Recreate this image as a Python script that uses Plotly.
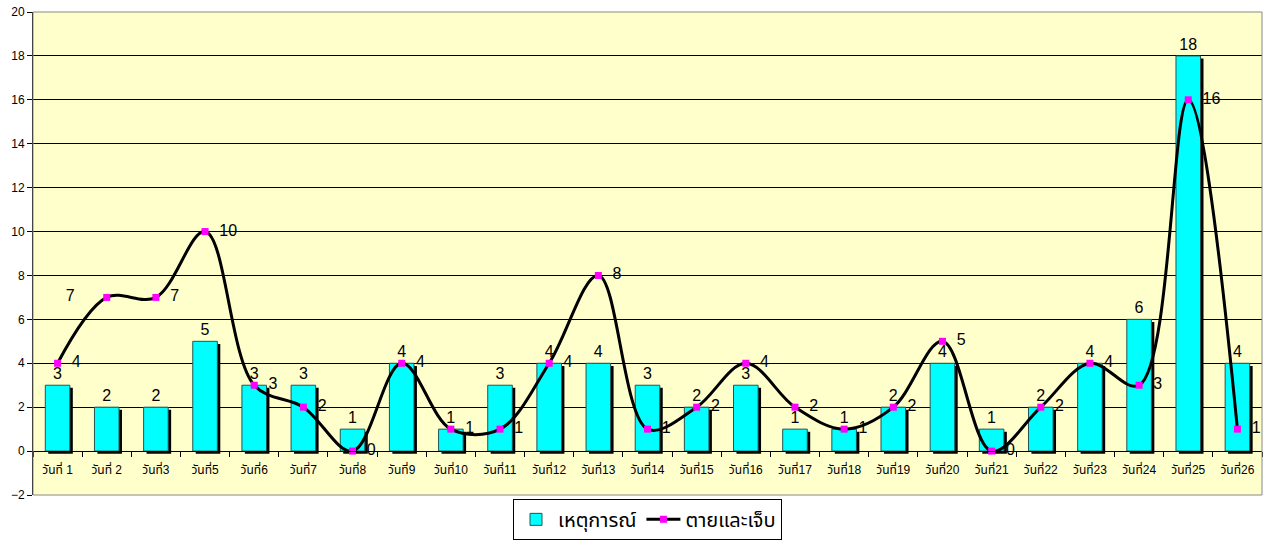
import plotly.graph_objects as go

days = ["วันที่ 1", "วันที่ 2", "วันที่3", "วันที่5", "วันที่6", "วันที่7", "วันที่8", "วันที่9",
        "วันที่10", "วันที่11", "วันที่12", "วันที่13", "วันที่14", "วันที่15", "วันที่16", "วันที่17",
        "วันที่18", "วันที่19", "วันที่20", "วันที่21", "วันที่22", "วันที่23", "วันที่24", "วันที่25", "วันที่26"]
incidents = [3, 2, 2, 5, 3, 3, 1, 4, 1, 3, 4, 4, 3, 2, 3, 1, 1, 2, 4, 1, 2, 4, 6, 18, 4]
casualties = [4, 7, 7, 10, 3, 2, 0, 4, 1, 1, 4, 8, 1, 2, 4, 2, 1, 2, 5, 0, 2, 4, 3, 16, 1]

FONT = "Arial, Tahoma, 'Noto Sans Thai', 'DejaVu Sans', sans-serif"

fig = go.Figure()

# shadow bars
fig.add_trace(go.Bar(
    x=days, y=incidents, base=-0.12, offset=-0.19, width=0.5,
    marker=dict(color="black", line=dict(width=0)),
    showlegend=False, hoverinfo="skip",
))
# main bars
fig.add_trace(go.Bar(
    x=days, y=incidents, offset=-0.25, width=0.5, name="เหตุการณ์",
    marker=dict(color="#00FFFF", line=dict(color="#225555", width=1)),
    text=[str(v) for v in incidents], textposition="outside",
    textfont=dict(size=16, color="black", family=FONT), cliponaxis=False,
))

positions = ["middle right"] * len(days)
labels = ["  " + str(v) for v in casualties]
positions[1] = "middle left"
labels[1] = str(casualties[1]) + "      "
fig.add_trace(go.Scatter(
    x=days, y=casualties, name="ตายและเจ็บ", mode="lines+markers+text",
    line=dict(color="black", width=3, shape="spline", smoothing=1),
    marker=dict(symbol="square", size=7, color="#FF00FF"),
    text=labels, textposition=positions,
    textfont=dict(size=16, color="black", family=FONT), cliponaxis=False,
))

fig.update_layout(
    width=1272, height=541,
    margin=dict(l=33, r=10, t=12, b=46, autoexpand=False),
    paper_bgcolor="white", plot_bgcolor="#FFFFCC",
    barmode="overlay",
    font=dict(family=FONT, color="black"),
    legend=dict(orientation="h", x=0.5, xanchor="center", y=-0.008, yanchor="top",
                bordercolor="black", borderwidth=1, font=dict(size=20, family=FONT),
                bgcolor="white", itemwidth=34),
    xaxis=dict(type="category", anchor="free", position=2/22, range=[-0.5, 24.5],
               automargin=False,
               showgrid=False, showline=True, linecolor="black", linewidth=1,
               ticks="outside", ticklen=5, tickcolor="black", tickson="boundaries",
               ticklabelstandoff=8,
               tickfont=dict(size=12, family=FONT)),
    yaxis=dict(range=[-2, 20], dtick=2, showgrid=True, gridcolor="black", gridwidth=1,
               automargin=False,
               zeroline=True, zerolinecolor="black", zerolinewidth=1,
               showline=True, linecolor="black", linewidth=1,
               ticks="outside", ticklen=5, tickcolor="black",
               tickfont=dict(size=12, family=FONT)),
    shapes=[dict(type="rect", xref="x domain", yref="y domain", x0=0, x1=1, y0=0, y1=1,
                 line=dict(color="#888888", width=1), layer="above")],
)

fig.write_html("out.html", config={"displayModeBar": False},
               post_script="document.body.style.margin='0';")
